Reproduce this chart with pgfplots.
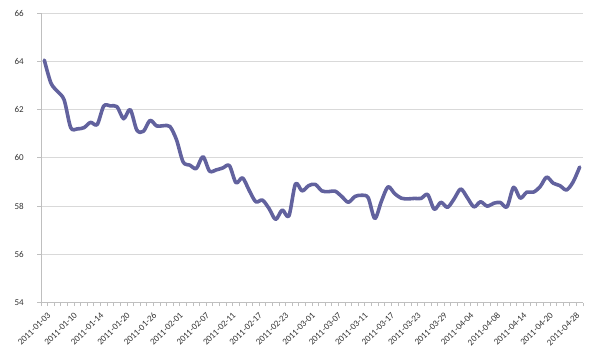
\documentclass[border=0pt]{standalone}
\usepackage{fontspec}
\setmainfont{Carlito}
\usepackage{pgfplots}
\pgfplotsset{compat=1.18}
\definecolor{series}{RGB}{98,98,158}
\definecolor{gridc}{RGB}{217,217,217}
\definecolor{axc}{RGB}{191,191,191}
\definecolor{txt}{RGB}{50,50,50}
\begin{document}
\begin{tikzpicture}[x=1pt,y=1pt]
\useasboundingbox (0,0) rectangle (600,350);
\begin{axis}[
  at={(41pt,47.3pt)}, anchor=south west,
  scale only axis, width=542pt, height=289.7pt,
  xmin=-0.5, xmax=81.5, ymin=54, ymax=66,
  axis x line*=bottom, axis y line*=left,
  axis line style={axc, line width=0.8pt, -},
  xtick={0,4,...,80},
  xticklabels={2011-01-03,2011-01-10,2011-01-14,2011-01-20,2011-01-26,2011-02-01,2011-02-07,2011-02-11,2011-02-17,2011-02-23,2011-03-01,2011-03-07,2011-03-11,2011-03-17,2011-03-23,2011-03-29,2011-04-04,2011-04-08,2011-04-14,2011-04-20,2011-04-28},
  minor xtick={-0.5,0.5,...,81.5},
  ytick={54,56,...,66},
  minor ytick={54,56,...,66},
  major tick length=0pt,
  minor tick length=3.5pt,
  tick align=outside,
  tick style={axc, line width=0.8pt},
  ymajorgrids,
  major grid style={gridc, line width=0.8pt},
  /pgf/number format/assume math mode=true,
  tick label style={font=\fontsize{9}{10}\selectfont, text=txt},
  yticklabel style={anchor=east, inner sep=0pt, xshift=-17pt},
  xticklabel style={inner sep=0pt, xshift=2.7pt, yshift=-9pt, rotate=45, anchor=north east},
]
\addplot[series, line width=3.6pt, smooth, tension=0.5, line cap=round, line join=round] coordinates {
(0,64.05) (1,63.1) (2,62.75) (3,62.4) (4,61.25) (5,61.2) (6,61.25) (7,61.47) (8,61.38) (9,62.15)
(10,62.15) (11,62.12) (12,61.62) (13,62.0) (14,61.15) (15,61.1) (16,61.55) (17,61.32) (18,61.33) (19,61.3)
(20,60.75) (21,59.83) (22,59.7) (23,59.56) (24,60.05) (25,59.45) (26,59.5) (27,59.58) (28,59.68) (29,58.97)
(30,59.17) (31,58.65) (32,58.18) (33,58.25) (34,57.9) (35,57.45) (36,57.84) (37,57.59) (38,58.92) (39,58.63)
(40,58.85) (41,58.9) (42,58.63) (43,58.6) (44,58.62) (45,58.4) (46,58.16) (47,58.4) (48,58.45) (49,58.35)
(50,57.49) (51,58.2) (52,58.8) (53,58.52) (54,58.33) (55,58.3) (56,58.32) (57,58.32) (58,58.48) (59,57.87)
(60,58.16) (61,57.95) (62,58.3) (63,58.71) (64,58.35) (65,57.97) (66,58.18) (67,58.0) (68,58.12) (69,58.15)
(70,57.97) (71,58.78) (72,58.33) (73,58.58) (74,58.58) (75,58.8) (76,59.2) (77,58.95) (78,58.85) (79,58.67)
(80,59.0) (81,59.62)
};
\end{axis}
\end{tikzpicture}
\end{document}
